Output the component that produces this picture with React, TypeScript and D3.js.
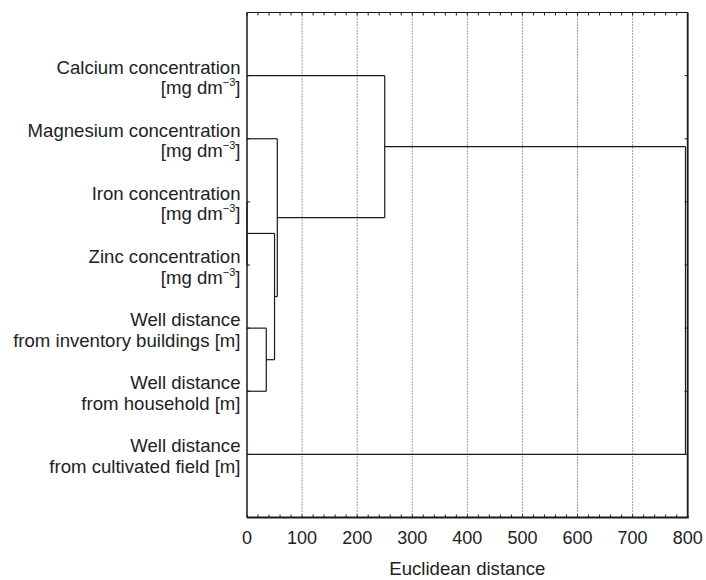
import React from "react";
import * as d3 from "d3";

// Leaf labels (top to bottom), each as two lines; "SUP" marks the unit with superscript
const leafLine1 = [
  "Calcium concentration",
  "Magnesium concentration",
  "Iron concentration",
  "Zinc concentration",
  "Well distance",
  "Well distance",
  "Well distance",
];
const leafLine2 = [
  "SUP",
  "SUP",
  "SUP",
  "SUP",
  "from inventory buildings [m]",
  "from household [m]",
  "from cultivated field [m]",
];

// Merges: node ids 0..6 are leaves, merge k creates node 7+k
const mergeA = [2, 4, 7, 1, 0, 11];
const mergeB = [3, 5, 8, 9, 10, 6];
const mergeDist = [0, 35, 50, 55, 250, 796];

const xTicks = [0, 100, 200, 300, 400, 500, 600, 700, 800];
const xTitle = "Euclidean distance";

const W = 706;
const H = 580;
const plot = { left: 247, right: 687.7, top: 12.5, bottom: 517.5 };
const FONT = "'Liberation Sans', Arial, Helvetica, sans-serif";
const LINE = "#1a1a1a";
const LABEL_FS = 18.6;

export default function App() {
  const x = d3.scaleLinear().domain([0, 800]).range([plot.left, plot.right]);
  const y = d3
    .scaleLinear()
    .domain([0, leafLine1.length + 1])
    .range([plot.top, plot.bottom]);

  // node positions
  const nodeY: number[] = leafLine1.map((_, i) => y(i + 1));
  const nodeD: number[] = leafLine1.map(() => 0);
  const segs: { x1: number; y1: number; x2: number; y2: number }[] = [];
  mergeA.forEach((a, k) => {
    const b = mergeB[k];
    const d = mergeDist[k];
    const ya = nodeY[a];
    const yb = nodeY[b];
    segs.push({ x1: x(nodeD[a]), y1: ya, x2: x(d), y2: ya });
    segs.push({ x1: x(nodeD[b]), y1: yb, x2: x(d), y2: yb });
    segs.push({ x1: x(d), y1: ya, x2: x(d), y2: yb });
    nodeY.push((ya + yb) / 2);
    nodeD.push(d);
  });

  const minor = d3.range(0, 801, 20);

  return (
    <svg
      width={W}
      height={H}
      style={{ position: "absolute", left: 0, top: 0, background: "#fff" }}
      fontFamily={FONT}
    >
      <rect x={0} y={0} width={W} height={H} fill="#fff" />
      {/* grid */}
      {xTicks
        .filter((t) => t > 0 && t < 800)
        .map((t) => (
          <line
            key={"g" + t}
            x1={x(t)}
            x2={x(t)}
            y1={plot.top}
            y2={plot.bottom}
            stroke="#444"
            strokeWidth={1}
            strokeDasharray="1,2"
          />
        ))}
      {/* minor ticks top & bottom */}
      {minor.map((t) => (
        <g key={"m" + t}>
          <line x1={x(t)} x2={x(t)} y1={plot.top} y2={plot.top + 3} stroke={LINE} strokeWidth={1} />
          <line x1={x(t)} x2={x(t)} y1={plot.bottom} y2={plot.bottom - 3} stroke={LINE} strokeWidth={1} />
        </g>
      ))}
      {/* leaf ticks left & right */}
      {leafLine1.map((_, i) => (
        <g key={"lt" + i}>
          <line x1={plot.left} x2={plot.left + 3} y1={y(i + 1)} y2={y(i + 1)} stroke={LINE} strokeWidth={1} />
          <line x1={plot.right} x2={plot.right - 3} y1={y(i + 1)} y2={y(i + 1)} stroke={LINE} strokeWidth={1} />
        </g>
      ))}
      {/* dendrogram */}
      {segs.map((s, i) => (
        <line
          key={"s" + i}
          x1={s.x1}
          y1={s.y1}
          x2={s.x2}
          y2={s.y2}
          stroke={LINE}
          strokeWidth={1.2}
        />
      ))}
      {/* frame */}
      <line x1={plot.left} x2={plot.right} y1={plot.top} y2={plot.top} stroke={LINE} strokeWidth={1.2} />
      <line x1={plot.left} x2={plot.right + 1} y1={plot.bottom} y2={plot.bottom} stroke={LINE} strokeWidth={2} />
      <line x1={plot.left} x2={plot.left} y1={plot.top} y2={plot.bottom} stroke={LINE} strokeWidth={1.5} />
      <line x1={plot.right} x2={plot.right} y1={plot.top} y2={plot.bottom} stroke={LINE} strokeWidth={1.8} />
      {/* x tick labels */}
      {xTicks.map((t) => (
        <text key={"xl" + t} x={x(t)} y={544} fontSize={18} textAnchor="middle" fill="#222">
          {t}
        </text>
      ))}
      <text x={(plot.left + plot.right) / 2} y={575} fontSize={LABEL_FS} textAnchor="middle" fill="#222">
        {xTitle}
      </text>
      {/* leaf labels */}
      {leafLine1.map((l, i) => {
        const yy = y(i + 1);
        const l2 = leafLine2[i];
        return (
          <g key={"lab" + i} fill="#222" fontSize={LABEL_FS} textAnchor="end">
            <text x={240.5} y={yy - 2}>
              {l}
            </text>
            {l2 === "SUP" ? (
              <text x={240.5} y={yy + 18.5}>
                <tspan>[mg dm</tspan>
                <tspan dy={-8} fontSize={11}>
                  −3
                </tspan>
                <tspan dy={8}>]</tspan>
              </text>
            ) : (
              <text x={240.5} y={yy + 18.5}>
                {l2}
              </text>
            )}
          </g>
        );
      })}
    </svg>
  );
}
